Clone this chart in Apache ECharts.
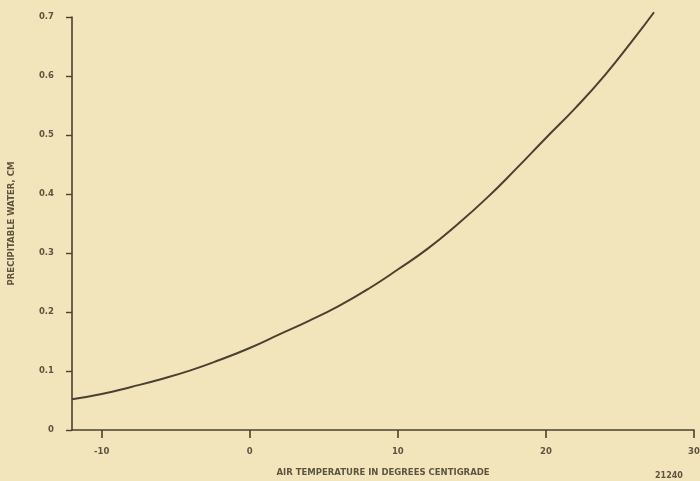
<!DOCTYPE html>
<html>
<head>
<meta charset="utf-8">
<script src="https://cdn.jsdelivr.net/npm/echarts@6/dist/echarts.min.js"></script>
<style>
html,body{margin:0;padding:0;background:#f2e5bb;}
#chart{width:700px;height:481px;}
</style>
</head>
<body>
<div id="chart"></div>
<script>
// Air temperature (deg C)
var temperatures = [-12, -10, -8, -6, -4, -2, 0, 2, 4, 6, 8, 10, 12, 14, 16, 18, 20, 22, 24, 26, 27.3];
// Precipitable water (cm)
var precipWater = [0.052, 0.061, 0.073, 0.086, 0.101, 0.119, 0.139, 0.162, 0.185, 0.210, 0.239, 0.272, 0.307, 0.348, 0.393, 0.443, 0.495, 0.546, 0.602, 0.665, 0.708];
var xTickValues = [-10, 0, 10, 20, 30];
var xTickLabels = ['-10', '0', '10', '20', '30'];
var yTickLabels = ['0', '0.1', '0.2', '0.3', '0.4', '0.5', '0.6', '0.7'];
var xTitle = 'AIR TEMPERATURE IN DEGREES CENTIGRADE';
var yTitle = 'PRECIPITABLE WATER, CM';
var figureNumber = '21240';

var ink = '#4a4130';
var labelInk = '#5e5540';
var chart = echarts.init(document.getElementById('chart'));
var points = temperatures.map(function (t, i) { return [t, precipWater[i]]; });

chart.setOption({
  backgroundColor: '#f2e5bb',
  animation: false,
  grid: { left: 72, right: 6, top: 17, bottom: 51, containLabel: false, outerBoundsMode: 'none' },
  xAxis: {
    type: 'value', min: -12, max: 30,
    name: xTitle, nameLocation: 'middle', nameGap: 38,
    nameTextStyle: { color: labelInk, fontSize: 8.5, fontWeight: 'bold', fontFamily: 'DejaVu Sans' },
    axisLine: { show: true, onZero: false, lineStyle: { color: ink, width: 1.6 } },
    axisTick: { show: true, length: 8, customValues: xTickValues, lineStyle: { color: ink, width: 1.6 } },
    axisLabel: {
      customValues: xTickValues, margin: 17,
      color: labelInk, fontSize: 8.5, fontWeight: 'bold', fontFamily: 'DejaVu Sans',
      formatter: function (v) { return xTickLabels[xTickValues.indexOf(v)]; }
    },
    splitLine: { show: false }
  },
  yAxis: {
    type: 'value', min: 0, max: 0.7, interval: 0.1,
    name: yTitle, nameLocation: 'middle', nameGap: 56, nameRotate: 90,
    nameTextStyle: { color: labelInk, fontSize: 8.5, fontWeight: 'bold', fontFamily: 'DejaVu Sans' },
    axisLine: { show: true, onZero: false, lineStyle: { color: ink, width: 1.6 } },
    axisTick: { show: true, length: 6, lineStyle: { color: ink, width: 1.4 } },
    axisLabel: {
      margin: 18, color: labelInk, fontSize: 8.5, fontWeight: 'bold', fontFamily: 'DejaVu Sans',
      formatter: function (v) { return yTickLabels[Math.round(v * 10)]; }
    },
    splitLine: { show: false }
  },
  series: [{
    type: 'line', data: points, smooth: true, showSymbol: false, clip: false,
    lineStyle: { color: ink, width: 2 }
  }],
  graphic: [{
    type: 'text', left: 655, top: 472,
    style: { text: figureNumber, fill: labelInk, fontSize: 8, fontWeight: 'bold', fontFamily: 'DejaVu Sans' }
  }]
});
</script>
</body>
</html>
